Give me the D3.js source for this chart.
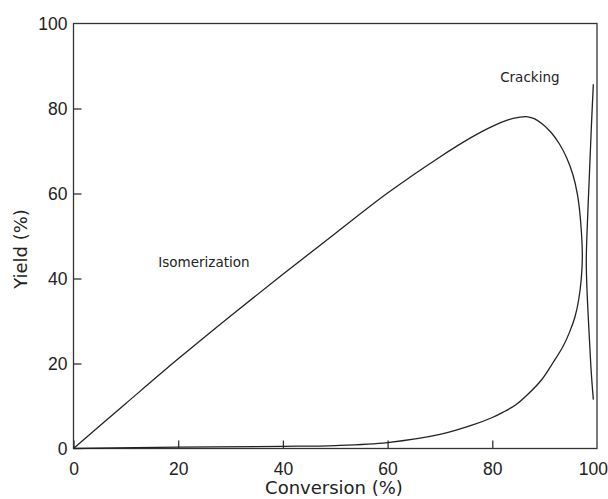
<!DOCTYPE html>
<html>
<head>
<meta charset="utf-8">
<script src="https://cdn.jsdelivr.net/npm/d3@7/dist/d3.min.js"></script>
<style>
  html, body { margin: 0; padding: 0; background: #fff; }
  svg { display: block; font-family: "DejaVu Sans", "Liberation Sans", Arial, sans-serif; }
</style>
</head>
<body>
<svg id="chart" width="608" height="499"></svg>
<script>
// Isomerization loop: conversion (%) and yield (%) along the closed curve,
// out along the upper branch, round the turning point, back along the lower branch.
const loopConversion = [0, 10, 20, 30, 40, 50, 60, 70, 76, 80, 83, 85, 86.5, 88, 89.5, 91.2, 92.8, 94.2, 95.4, 96.3, 96.9, 97.2, 97.0, 96.5, 95.8, 94.8, 93.5, 91.5, 89.5, 87, 84.5, 82, 80, 76.4, 70, 60, 50, 40, 20, 0];
const loopYield      = [0, 10.6, 21.1, 31.2, 41, 50.6, 60.1, 68.6, 73.2, 75.8, 77.3, 77.9, 78.1, 77.6, 76.4, 74.4, 71.7, 68.4, 64.4, 59.5, 53, 45, 40, 35, 31, 27.5, 24, 20, 16.3, 13, 10.3, 8.5, 7.3, 5.6, 3.3, 1.4, 0.7, 0.5, 0.3, 0];

// Cracking branch near full conversion
const crackConversion = [99.3, 98.9, 98.5, 98.1, 97.95, 98.1, 98.5, 98.9, 99.3];
const crackYield      = [85.7, 75, 63, 51, 44, 37, 27, 18, 11.5];

// Axis ticks and labels
const xTicks = [0, 20, 40, 60, 80, 100];
const yTicks = [0, 20, 40, 60, 80, 100];
const curveLabels = [
  { text: "Isomerization", conv: 16.2, yld: 42.8 },
  { text: "Cracking",      conv: 81.5, yld: 86.3 }
];

const svg = d3.select("#chart");
const plotLeft = 73.5, plotRight = 597, plotTop = 23.5, plotBottom = 448.5;

const x = d3.scaleLinear().domain([0, 100]).range([plotLeft, plotRight]);
const y = d3.scaleLinear().domain([0, 100]).range([plotBottom, plotTop]);

const ink = "#222";
const tickFont = 17.5;
const titleFont = 18;

// plot frame
svg.append("rect")
  .attr("x", plotLeft).attr("y", plotTop)
  .attr("width", plotRight - plotLeft).attr("height", plotBottom - plotTop)
  .attr("fill", "none").attr("stroke", "#333").attr("stroke-width", 1.3);

// bottom axis, ticks pointing inward
const gx = svg.append("g")
  .attr("transform", `translate(0,${plotBottom})`)
  .call(d3.axisBottom(x).tickValues(xTicks).tickSize(-8).tickPadding(14).tickFormat(d3.format("d")));
gx.select(".domain").remove();
gx.selectAll("line").attr("stroke", "#333").attr("stroke-width", 1.3);
gx.selectAll("text").attr("fill", ink).attr("font-size", tickFont);
gx.selectAll(".tick").filter(d => d === 100).select("line").remove();
gx.selectAll(".tick").filter(d => d === 100).select("text").attr("text-anchor", "end").attr("x", 10.5);

// left axis, ticks pointing inward
const gy = svg.append("g")
  .attr("transform", `translate(${plotLeft},0)`)
  .call(d3.axisLeft(y).tickValues(yTicks).tickSize(-8).tickPadding(6).tickFormat(d3.format("d")));
gy.select(".domain").remove();
gy.selectAll("line").attr("stroke", "#333").attr("stroke-width", 1.3);
gy.selectAll("text").attr("fill", ink).attr("font-size", tickFont);
gy.selectAll(".tick").filter(d => d === 100 || d === 0).select("line").remove();

// axis titles
svg.append("text")
  .attr("x", 334).attr("y", 494)
  .attr("text-anchor", "middle")
  .attr("font-size", titleFont).attr("fill", ink)
  .text("Conversion (%)");

svg.append("text")
  .attr("transform", "translate(27,249) rotate(-90)")
  .attr("text-anchor", "middle")
  .attr("font-size", titleFont).attr("fill", ink)
  .text("Yield (%)");

// curves
const line = d3.line()
  .x(d => x(d[0]))
  .y(d => y(d[1]))
  .curve(d3.curveCatmullRom.alpha(0.5));

const loopPts = loopConversion.map((c, i) => [c, loopYield[i]]);
const crackPts = crackConversion.map((c, i) => [c, crackYield[i]]);

svg.append("path")
  .datum(loopPts)
  .attr("d", line)
  .attr("fill", "none").attr("stroke", ink).attr("stroke-width", 1.3);

svg.append("path")
  .datum(crackPts)
  .attr("d", line)
  .attr("fill", "none").attr("stroke", ink).attr("stroke-width", 1.3);

// curve labels
svg.selectAll("text.curve-label")
  .data(curveLabels)
  .enter().append("text")
  .attr("class", "curve-label")
  .attr("x", d => x(d.conv))
  .attr("y", d => y(d.yld))
  .attr("font-size", 13.5).attr("fill", ink)
  .text(d => d.text);
</script>
</body>
</html>
